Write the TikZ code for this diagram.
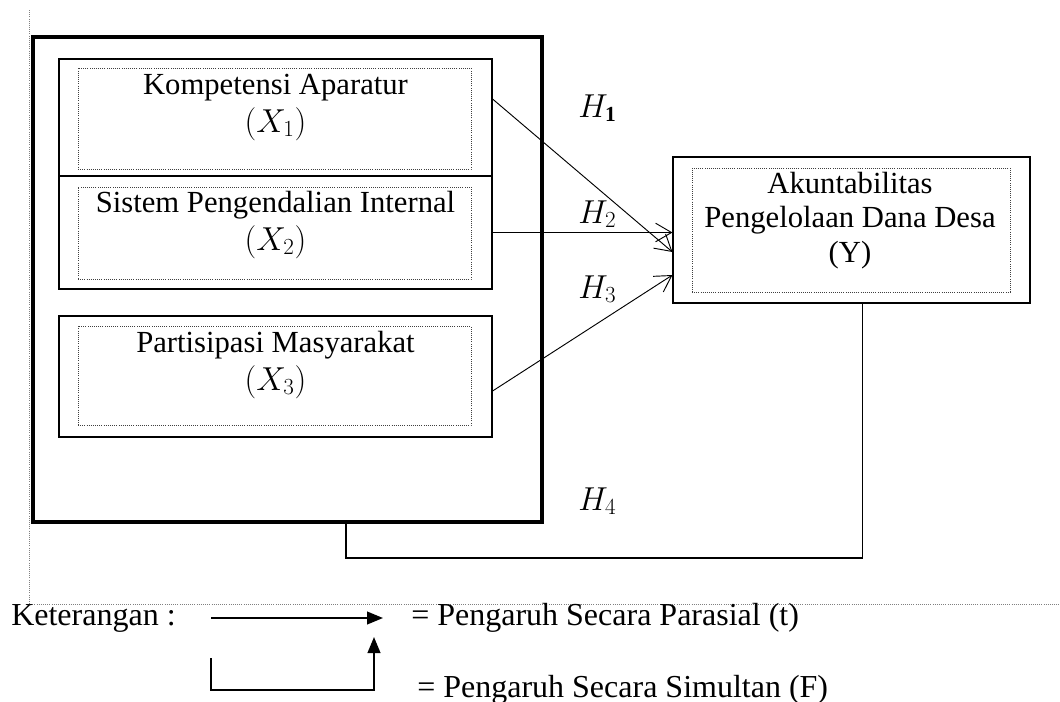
\documentclass[tikz,border=0pt]{standalone}
\usepackage{amsmath}
\usepackage{fontspec}
\setmainfont{Liberation Serif}
\usetikzlibrary{arrows.meta,positioning}

\begin{document}
\begin{tikzpicture}[x=0.75pt, y=-0.75pt,
    box/.style={draw, line width=0.8pt, inner sep=0pt},
    dotbox/.style={draw=black!75, densely dotted, line width=0.6pt, inner sep=0pt},
    txt/.style={font=\fontsize{23}{27}\selectfont, inner sep=0pt, anchor=base},
    keytxt/.style={font=\fontsize{24}{28}\selectfont, inner sep=0pt, anchor=base west},
    hyp/.style={line width=0.7pt, -{Straight Barb[length=12pt,width=14pt]}},
    key/.style={line width=1.5pt, -{Triangle[length=12pt,width=9.5pt]}}
]
        \useasboundingbox (0,0) rectangle (1060,701);

        % Page margin guides
        \draw[gray, densely dotted, line width=0.6pt] (29,10) -- (29,604) -- (1060,604);

        % Group box round the independent variables
        \node[draw, line width=3.3pt, minimum width=381.75pt, minimum height=363.75pt, inner sep=0pt] (group) at (287.5,279.5) {};

        % Independent variables
        \node[box, minimum width=324.75pt, minimum height=87.75pt] (x1) at (275.5,117.5) {};
        \node[dotbox, minimum width=294.75pt, minimum height=75.75pt] (x1in) at (274.5,118.5) {};
        \node[txt] (x1name) at (275.5,94) {Kompetensi Aparatur};
        \node[txt] (x1sym) at (275.5,132) {$(X_1)$};

        \node[box, minimum width=324.75pt, minimum height=84.75pt] (x2) at (275.5,232.5) {};
        \node[dotbox, minimum width=294.75pt, minimum height=69pt] (x2in) at (274.5,233) {};
        \node[txt] (x2name) at (275.5,212) {Sistem Pengendalian Internal};
        \node[txt] (x2sym) at (275.5,250) {$(X_2)$};

        \node[box, minimum width=324.75pt, minimum height=90.75pt] (x3) at (275.5,376.5) {};
        \node[dotbox, minimum width=294.75pt, minimum height=74.25pt] (x3in) at (274.5,375.5) {};
        \node[txt] (x3name) at (275.5,352) {Partisipasi Masyarakat};
        \node[txt] (x3sym) at (275.5,390) {$(X_3)$};

        % Dependent variable
        \node[box, minimum width=267.75pt, minimum height=109.5pt] (ybox) at (851.5,230) {};
        \node[dotbox, minimum width=238.5pt, minimum height=93pt] (yin) at (851,230) {};
        \node[txt] (yname1) at (850,193) {Akuntabilitas};
        \node[txt] (yname2) at (850,227) {Pengelolaan Dana Desa};
        \node[txt] (ysym) at (850,262) {(Y)};

        % Partial effects
        \draw[hyp] ([yshift=13.9pt]x1.east) -- ([yshift=-16.5pt]ybox.west);
        \draw[hyp] (x2.east) -- (x2.east -| ybox.west);
        \draw[hyp] ([yshift=-10.9pt]x3.east) -- ([yshift=-33.75pt]ybox.west);

        \node[txt, anchor=base west] (h1) at (578,117) {$H_{\mathbf{1}}$};
        \node[txt, anchor=base west] (h2) at (578,223) {$H_2$};
        \node[txt, anchor=base west] (h3) at (578,298) {$H_3$};
        \node[txt, anchor=base west] (h4) at (578,510) {$H_4$};

        % Simultaneous effect
        \coordinate (h4corner) at (346,558);
        \draw[line width=0.8pt] (group.south -| h4corner) -- (h4corner) -| ([xshift=7.9pt]ybox.south);

        % Legend
        \node[keytxt] (keyhead) at (11,625) {Keterangan :};
        \coordinate (pstart) at (211,618);
        \coordinate (pend) at (383,618);
        \draw[key] (pstart) -- (pend);
        \node[keytxt] (keypart) at (411,625) {= Pengaruh Secara Parasial (t)};

        \coordinate (sstart) at (211,658);
        \coordinate (sbase) at (211,690);
        \coordinate (send) at (374,637);
        \draw[key] (sstart) -- (sbase) -| (send);
        \node[keytxt] (keysim) at (417,697) {= Pengaruh Secara Simultan (F)};

    \end{tikzpicture}
\end{document}
